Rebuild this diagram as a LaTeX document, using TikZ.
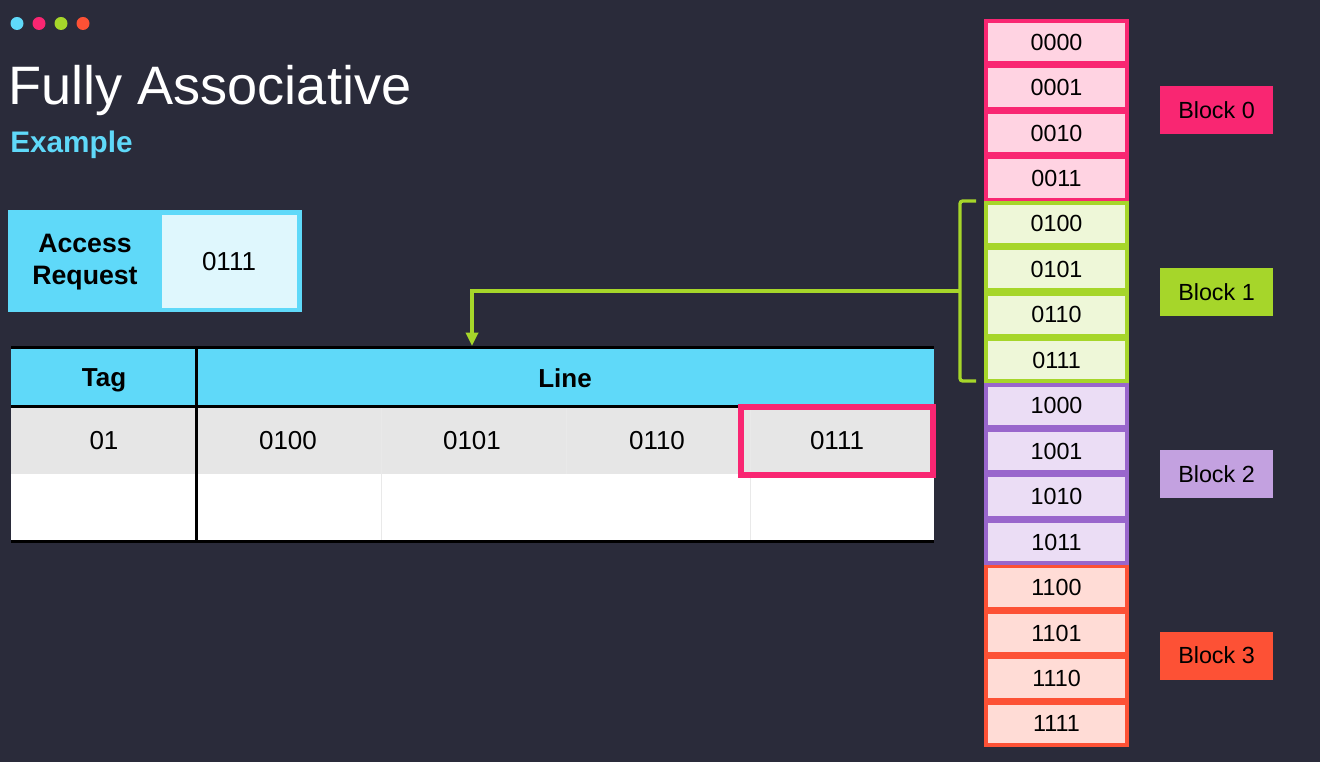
\documentclass[tikz,border=0pt]{standalone}
\usepackage{fontspec}
\setmainfont{Liberation Sans}
\usepackage{tikz}
\usetikzlibrary{arrows.meta}

\definecolor{bgdark}{HTML}{2A2B3A}
\definecolor{accentcyan}{HTML}{5FD9F9}
\definecolor{accentpink}{HTML}{F92672}
\definecolor{accentgreen}{HTML}{A6D62A}
\definecolor{accentorange}{HTML}{FD5135}
\definecolor{accentpurple}{HTML}{9966CC}
\definecolor{labelpurple}{HTML}{C3A1E0}
\definecolor{reqlight}{HTML}{DFF7FD}
\definecolor{rowgray}{HTML}{E6E6E6}
\definecolor{gridgray}{HTML}{E9E9E9}
\definecolor{pinklight}{HTML}{FFD3E2}
\definecolor{greenlight}{HTML}{EEF7D8}
\definecolor{purplelight}{HTML}{EBDDF5}
\definecolor{orangelight}{HTML}{FFDCD6}

\begin{document}
\begin{tikzpicture}[x=0.75pt,y=0.75pt,yscale=-1,xscale=1,
    memcell/.style={draw, line width=2.7pt, minimum width=106pt, minimum height=31.4pt, inner sep=0pt, font=\fontsize{17.5}{20}\selectfont},
    blocklabel/.style={minimum width=84.75pt, minimum height=36pt, inner sep=0pt, font=\fontsize{17.5}{20}\selectfont},
    tabtext/.style={inner sep=0.75pt, font=\fontsize{19.5}{22}\selectfont},
    tabhead/.style={inner sep=0.75pt, font=\bfseries\fontsize{19.5}{22}\selectfont},
    tabrule/.style={line width=2.25pt, black},
    gridline/.style={line width=0.6pt, gridgray},
    feed/.style={line width=2.5pt, accentgreen, -{Triangle[length=10pt,width=9pt]}}]
        %set diagram size 1320 x 762 and paint the slide
        \fill [bgdark] (0,0) rectangle (1320,762);
        \useasboundingbox (0,0) rectangle (1320,762);

        %Shape: Circle
        \fill [accentcyan] (17,23.5) circle [radius=6.5];
        %Shape: Circle
        \fill [accentpink] (39,23.5) circle [radius=6.5];
        %Shape: Circle
        \fill [accentgreen] (61,23.5) circle [radius=6.5];
        %Shape: Circle
        \fill [accentorange] (83,23.5) circle [radius=6.5];

        % Text Node
        \node [anchor=base west, inner sep=0pt, white, font=\fontsize{40.6}{46}\selectfont] (title) at (8,105) {Fully Associative};
        % Text Node
        \node [anchor=base west, inner sep=0pt, accentcyan, font=\bfseries\fontsize{22.3}{26}\selectfont] (subtitle) at (10,153) {Example};

        %Shape: Rectangle
        \fill [accentcyan] (7.5,210.5) rectangle (301.5,312.5);
        %Shape: Rectangle
        \fill [reqlight] (162,215) rectangle (297,308);
        % Text Node
        \node [align=center, inner sep=0.75pt, font=\bfseries\fontsize{20}{24}\selectfont] (reqlabel) at (85,262) {Access\\Request};
        % Text Node
        \node [inner sep=0.75pt, font=\fontsize{19.5}{22}\selectfont] (reqaddr) at (229,262) {0111};

        %Shape: Rectangle
        \fill [accentcyan] (11,349) rectangle (934,406);
        %Shape: Rectangle
        \fill [rowgray] (11,408) rectangle (934,474);
        %Shape: Rectangle
        \fill [white] (11,474) rectangle (934,540);
        %Straight Lines
        \draw [gridline] (381,408) -- (381,540);
        \draw [gridline] (566,408) -- (566,474);
        \draw [gridline] (750,408) -- (750,540);
        %Straight Lines
        \draw [tabrule] (11,347.5) -- (934,347.5);
        \draw [tabrule] (11,407) -- (934,407);
        \draw [tabrule] (11,541) -- (934,541);
        \draw [tabrule] (196,346.5) -- (196,542);

        % Text Node
        \node [tabhead] (taghead) at (104,380) {Tag};
        % Text Node
        \node [tabhead] (linehead) at (565,378) {Line};
        % Text Node
        \node [tabtext] (tagval) at (104,441) {01};
        % Text Node
        \node [tabtext] (lineA) at (288,441) {0100};
        % Text Node
        \node [tabtext] (lineB) at (472,441) {0101};
        % Text Node
        \node [tabtext] (lineC) at (657,441) {0110};
        % Text Node
        \node [tabtext, draw=accentpink, line width=4.5pt, minimum width=144pt, minimum height=51pt] (lineD) at (837,441) {0111};

        %Memory cells
        \node [memcell, draw=accentpink, fill=pinklight] (m0) at (1056.5,42.0) {0000};
        \node [memcell, draw=accentpink, fill=pinklight] (m1) at (1056.5,87.5) {0001};
        \node [memcell, draw=accentpink, fill=pinklight] (m2) at (1056.5,133.0) {0010};
        \node [memcell, draw=accentpink, fill=pinklight] (m3) at (1056.5,178.4) {0011};
        \node [memcell, draw=accentgreen, fill=greenlight] (m4) at (1056.5,223.9) {0100};
        \node [memcell, draw=accentgreen, fill=greenlight] (m5) at (1056.5,269.3) {0101};
        \node [memcell, draw=accentgreen, fill=greenlight] (m6) at (1056.5,314.8) {0110};
        \node [memcell, draw=accentgreen, fill=greenlight] (m7) at (1056.5,360.2) {0111};
        \node [memcell, draw=accentpurple, fill=purplelight] (m8) at (1056.5,405.7) {1000};
        \node [memcell, draw=accentpurple, fill=purplelight] (m9) at (1056.5,451.1) {1001};
        \node [memcell, draw=accentpurple, fill=purplelight] (m10) at (1056.5,496.6) {1010};
        \node [memcell, draw=accentpurple, fill=purplelight] (m11) at (1056.5,542.1) {1011};
        \node [memcell, draw=accentorange, fill=orangelight] (m12) at (1056.5,587.5) {1100};
        \node [memcell, draw=accentorange, fill=orangelight] (m13) at (1056.5,633.0) {1101};
        \node [memcell, draw=accentorange, fill=orangelight] (m14) at (1056.5,678.4) {1110};
        \node [memcell, draw=accentorange, fill=orangelight] (m15) at (1056.5,723.9) {1111};

        %Block labels
        \node [blocklabel, fill=accentpink] (blk0) at (1216.5,110.2) {Block 0};
        \node [blocklabel, fill=accentgreen] (blk1) at (1216.5,292.0) {Block 1};
        \node [blocklabel, fill=labelpurple] (blk2) at (1216.5,473.8) {Block 2};
        \node [blocklabel, fill=accentorange] (blk3) at (1216.5,655.6) {Block 3};

        %Straight Lines
        \draw [line width=2.5pt, accentgreen, rounded corners=2pt] (976,201) -- (960,201) -- (960,381) -- (976,381);
        \coordinate (bracemid) at (960,291);
        \coordinate (tabin) at (472,346);
        \draw [feed] (bracemid) -| (tabin);

    \end{tikzpicture}
\end{document}
